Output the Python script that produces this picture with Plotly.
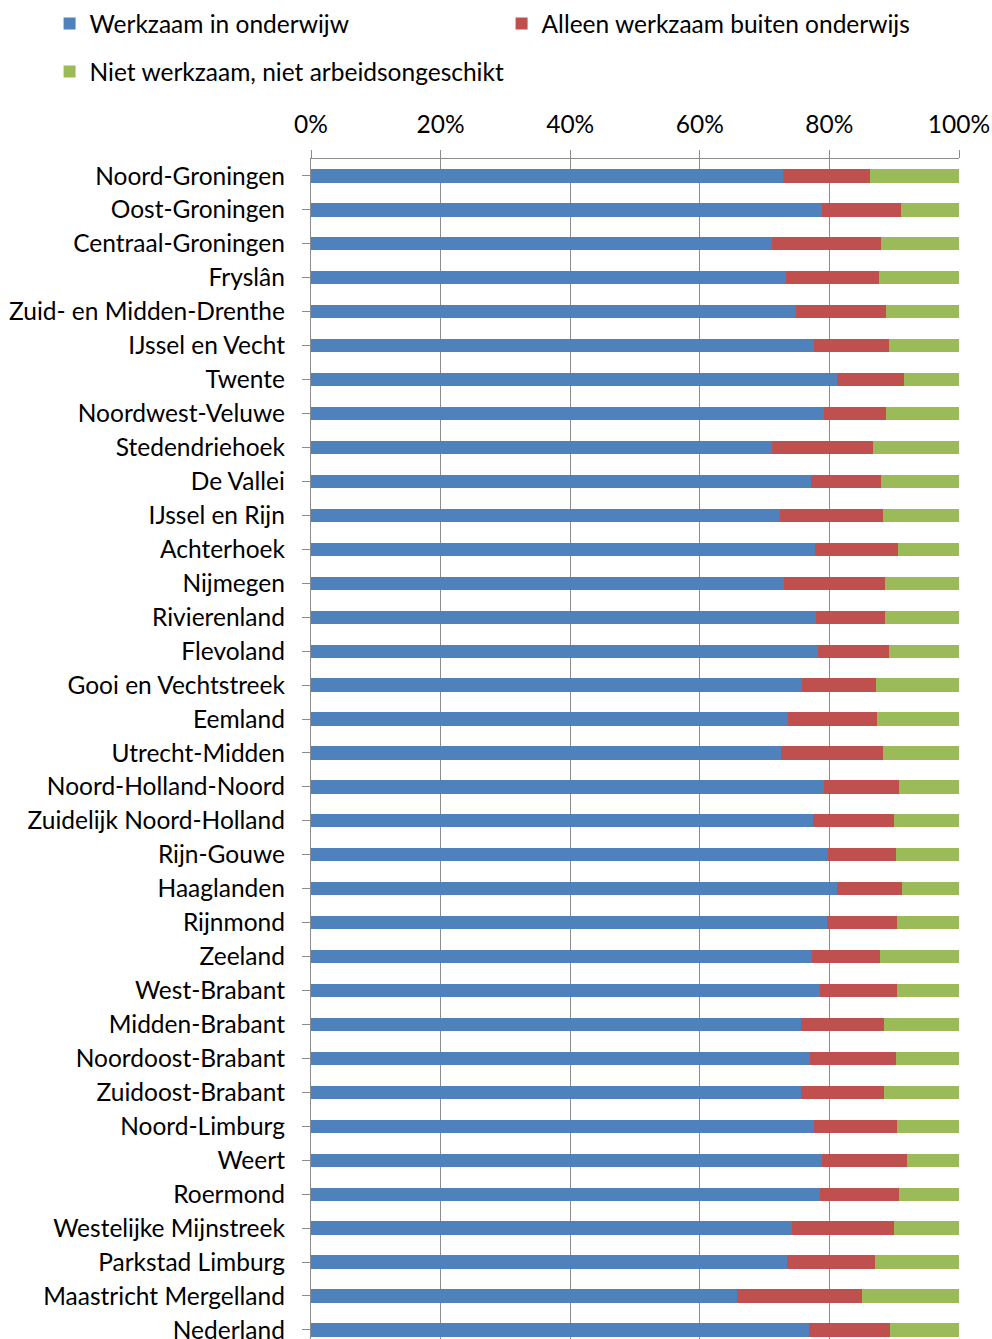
import plotly.graph_objects as go

regions = [
    "Noord-Groningen", "Oost-Groningen", "Centraal-Groningen", "Fryslân",
    "Zuid- en Midden-Drenthe", "IJssel en Vecht", "Twente", "Noordwest-Veluwe",
    "Stedendriehoek", "De Vallei", "IJssel en Rijn", "Achterhoek", "Nijmegen",
    "Rivierenland", "Flevoland", "Gooi en Vechtstreek", "Eemland", "Utrecht-Midden",
    "Noord-Holland-Noord", "Zuidelijk Noord-Holland", "Rijn-Gouwe", "Haaglanden",
    "Rijnmond", "Zeeland", "West-Brabant", "Midden-Brabant", "Noordoost-Brabant",
    "Zuidoost-Brabant", "Noord-Limburg", "Weert", "Roermond",
    "Westelijke Mijnstreek", "Parkstad Limburg", "Maastricht Mergelland", "Nederland",
]

werkzaam_onderwijs = [
    72.9, 78.8, 71.1, 73.3, 74.8, 77.6, 81.2, 79.1, 71.1, 77.2, 72.3, 77.7, 73.0,
    78.0, 78.3, 75.7, 73.6, 72.6, 79.1, 77.4, 79.8, 81.1, 79.7, 77.3, 78.6, 75.6,
    77.0, 75.6, 77.6, 78.8, 78.5, 74.3, 73.4, 65.8, 76.8,
]
buiten_onderwijs = [
    13.3, 12.3, 16.8, 14.4, 14.0, 11.6, 10.3, 9.7, 15.6, 10.7, 16.0, 12.9, 15.6,
    10.6, 10.9, 11.5, 13.8, 15.6, 11.7, 12.6, 10.5, 10.1, 10.8, 10.5, 11.8, 12.9,
    13.2, 12.9, 12.9, 13.1, 12.3, 15.7, 13.7, 19.2, 12.6,
]
niet_werkzaam = [
    13.8, 8.9, 12.1, 12.3, 11.2, 10.8, 8.5, 11.2, 13.3, 12.1, 11.7, 9.4, 11.4,
    11.4, 10.8, 12.8, 12.6, 11.8, 9.2, 10.0, 9.7, 8.8, 9.5, 12.2, 9.6, 11.5,
    9.8, 11.5, 9.5, 8.1, 9.2, 10.0, 12.9, 15.0, 10.6,
]

series_names = [
    "Werkzaam in onderwijw",
    "Alleen werkzaam buiten onderwijs",
    "Niet werkzaam, niet arbeidsongeschikt",
]
colors = ["#4F81BD", "#C0504D", "#9BBB59"]
x_ticks = [0, 20, 40, 60, 80, 100]

FONT = "Lato"
FS = 24.5
W, H = 992, 1339
L, R, T = 310.5, 33.3, 159
plot_w = W - L - R
plot_h = H - T
n = len(regions)
step = 33.94
y_bottom = -0.5 + plot_h / step

fig = go.Figure()
legends = ["legend", "legend", "legend2"]
for vals, name, col, lg in zip([werkzaam_onderwijs, buiten_onderwijs, niet_werkzaam],
                               series_names, colors, legends):
    fig.add_trace(go.Bar(
        y=list(range(n)), x=vals, name=name, orientation="h",
        marker=dict(color=col, line=dict(width=0)), legend=lg,
    ))

leg_x = (63 - 14 - L) / plot_w
fig.update_layout(
    width=W, height=H,
    margin=dict(l=L, r=R, t=T, b=0, pad=0, autoexpand=False),
    paper_bgcolor="white", plot_bgcolor="white",
    barmode="stack", bargap=0.61,
    font=dict(family=FONT, size=FS, color="#000000"),
    showlegend=True,
    legend=dict(orientation="h", x=leg_x, xanchor="left", y=1 + (T - 1) / plot_h,
                yanchor="top", entrywidth=407, entrywidthmode="pixels",
                font=dict(family=FONT, size=FS), bgcolor="rgba(0,0,0,0)",
                traceorder="normal", itemclick=False),
    legend2=dict(orientation="h", x=leg_x, xanchor="left", y=1 + (T - 49) / plot_h,
                 yanchor="top", font=dict(family=FONT, size=FS),
                 bgcolor="rgba(0,0,0,0)", itemclick=False),
    xaxis=dict(
        side="top", range=[0, 100], tickvals=x_ticks,
        ticktext=[f"{v}%" for v in x_ticks],
        showgrid=True, gridcolor="#8C8C8C", gridwidth=1.3,
        showline=True, linecolor="#8C8C8C", linewidth=1.3,
        ticks="outside", ticklen=8, tickcolor="#8C8C8C", tickwidth=1.3,
        ticklabelstandoff=7, ticklabeloverflow="allow", automargin=False,
        zeroline=False, fixedrange=True,
        tickfont=dict(family=FONT, size=FS, color="#000000"),
    ),
    yaxis=dict(
        tickmode="array", tickvals=list(range(n)), ticktext=regions,
        range=[y_bottom, -0.5],
        showline=True, linecolor="#8C8C8C", linewidth=1.3,
        ticks="outside", ticklen=8, tickcolor="#8C8C8C", tickwidth=1.3,
        ticklabelstandoff=12, ticklabeloverflow="allow", automargin=False,
        showgrid=False, zeroline=False, fixedrange=True,
        tickfont=dict(family=FONT, size=FS, color="#000000"),
    ),
)

fig.write_html("out.html", config={"displayModeBar": False},
               post_script="document.body.style.margin='0';")
